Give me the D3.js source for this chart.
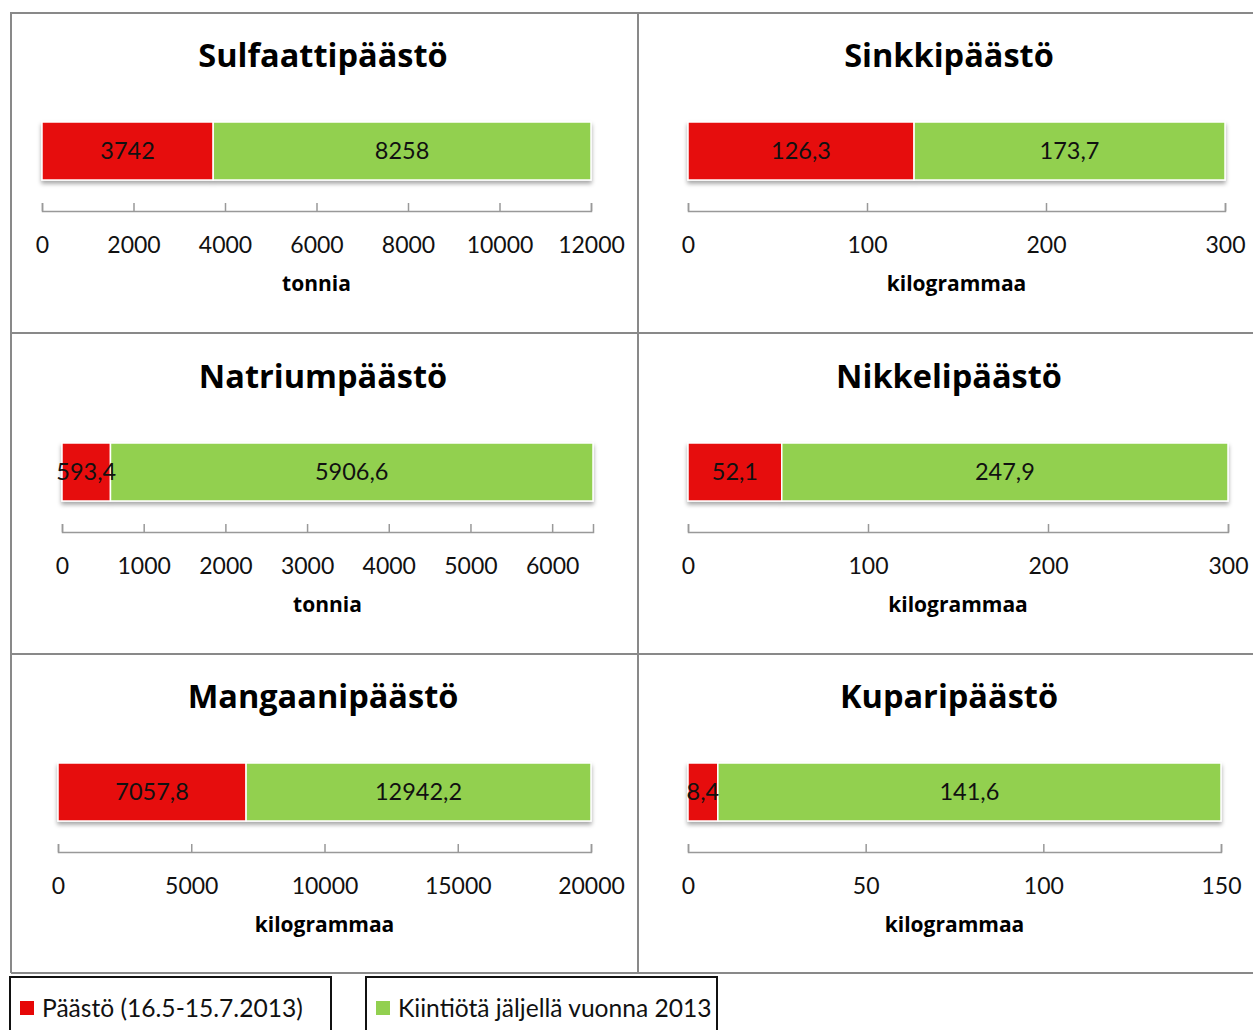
<!DOCTYPE html>
<html>
<head>
<meta charset="utf-8">
<script src="https://cdn.jsdelivr.net/npm/d3@7"></script>
<style>
  body { margin: 0; background: #fff; }
  svg { display: block; }
</style>
</head>
<body>
<svg width="1253" height="1030"></svg>
<script>
const titles = ["Sulfaattipäästö", "Sinkkipäästö", "Natriumpäästö", "Nikkelipäästö", "Mangaanipäästö", "Kuparipäästö"];
const units = ["tonnia", "kilogrammaa", "tonnia", "kilogrammaa", "kilogrammaa", "kilogrammaa"];
const emitted = [3742, 126.3, 593.4, 52.1, 7057.8, 8.4];
const remaining = [8258, 173.7, 5906.6, 247.9, 12942.2, 141.6];
const axisMax = [12000, 300, 6500, 300, 20000, 150];
const tickValues = [
  [0, 2000, 4000, 6000, 8000, 10000, 12000],
  [0, 100, 200, 300],
  [0, 1000, 2000, 3000, 4000, 5000, 6000],
  [0, 100, 200, 300],
  [0, 5000, 10000, 15000, 20000],
  [0, 50, 100, 150]
];
const seriesNames = ["Päästö (16.5-15.7.2013)", "Kiintiötä jäljellä vuonna 2013"];
const colors = ["#e60707", "#92d050"];

const svg = d3.select("svg");
const font = "Lato, 'Open Sans', sans-serif";
const boldFont = "'Open Sans', Lato, sans-serif";

// plot extents per panel (pixel range of the value axis)
const ranges = [[42, 591], [688, 1225], [62, 593], [688, 1228], [58, 591], [688, 1221]];
const titleX = [323, 949, 323, 949, 323, 949];
const rowTop = [0, 0, 321, 321, 641, 641];

const defs = svg.append("defs");
const shadow = defs.append("filter").attr("id", "shadow")
  .attr("x", "-5%").attr("y", "-20%").attr("width", "110%").attr("height", "160%");
shadow.append("feDropShadow")
  .attr("dx", 0).attr("dy", 3).attr("stdDeviation", 2)
  .attr("flood-color", "#000").attr("flood-opacity", 0.35);

const fmt = v => String(v).replace(".", ",");

// panel frame
const frame = svg.append("g").attr("stroke", "#898989").attr("stroke-width", 2).attr("fill", "none");
frame.append("path").attr("d", "M11,973 V13 H1260 M638,13 V973 M11,333 H1260 M11,654 H1260 M11,973 H1260");

titles.forEach((t, i) => {
  const g = svg.append("g").attr("transform", `translate(0, ${rowTop[i]})`);
  const x = d3.scaleLinear().domain([0, axisMax[i]]).range(ranges[i]);

  g.append("text")
    .attr("x", titleX[i]).attr("y", 67)
    .attr("text-anchor", "middle")
    .attr("font-family", boldFont).attr("font-weight", "bold").attr("font-size", 32.5)
    .text(t);

  const stack = [
    { start: 0, end: emitted[i], c: colors[0], v: emitted[i] },
    { start: emitted[i], end: emitted[i] + remaining[i], c: colors[1], v: remaining[i] }
  ];

  g.append("g").attr("filter", "url(#shadow)")
    .selectAll("rect").data(stack).join("rect")
    .attr("x", d => x(d.start)).attr("y", 122)
    .attr("width", d => x(d.end) - x(d.start)).attr("height", 58)
    .attr("fill", d => d.c)
    .attr("stroke", "#fff").attr("stroke-width", 1.5);

  g.selectAll("text.lbl").data(stack).join("text")
    .attr("class", "lbl")
    .attr("x", d => (x(d.start) + x(d.end)) / 2).attr("y", 159)
    .attr("text-anchor", "middle")
    .attr("font-family", font).attr("font-size", 23.5)
    .attr("fill", "#111")
    .text(d => fmt(d.v));

  const axis = d3.axisBottom(x)
    .tickValues(tickValues[i])
    .tickSizeInner(-8).tickSizeOuter(-8)
    .tickPadding(26)
    .tickFormat(d3.format("d"));

  const ag = g.append("g").attr("transform", "translate(0, 211)").call(axis);
  ag.select(".domain").attr("stroke", "#999").attr("stroke-width", 1.5);
  ag.selectAll(".tick line").attr("stroke", "#999").attr("stroke-width", 1.5);
  ag.selectAll(".tick text")
    .attr("font-family", font).attr("font-size", 23).attr("fill", "#111");

  g.append("text")
    .attr("x", (ranges[i][0] + ranges[i][1]) / 2).attr("y", 291)
    .attr("text-anchor", "middle")
    .attr("font-family", boldFont).attr("font-weight", "bold").attr("font-size", 21)
    .text(units[i]);
});

// legend boxes
const legendBoxes = [[10, 321], [366, 351]];
seriesNames.forEach((name, i) => {
  const lg = svg.append("g").attr("transform", `translate(${legendBoxes[i][0]}, 977)`);
  lg.append("rect").attr("x", 0).attr("y", 0)
    .attr("width", legendBoxes[i][1]).attr("height", 70)
    .attr("fill", "#fff").attr("stroke", "#111").attr("stroke-width", 2);
  lg.append("rect").attr("x", 10).attr("y", 24).attr("width", 14).attr("height", 14)
    .attr("fill", colors[i]);
  lg.append("text").attr("x", 32).attr("y", 40)
    .attr("font-family", font).attr("font-size", 24.6).attr("fill", "#111")
    .text(name);
});
</script>
</body>
</html>
